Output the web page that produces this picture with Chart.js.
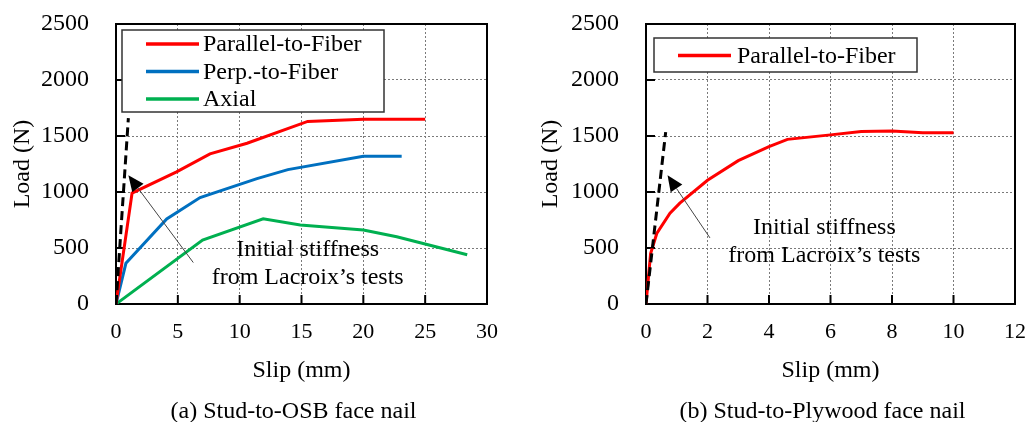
<!DOCTYPE html>
<html>
<head>
<meta charset="utf-8">
<script src="https://cdn.jsdelivr.net/npm/chart.js@4.4.0/dist/chart.umd.min.js"></script>
<style>
  html, body { margin: 0; padding: 0; background: #fff; }
  body { width: 1025px; height: 422px; position: relative; overflow: hidden; }
  canvas { position: absolute; top: 0; }
  #osb { left: 0; }
  #plywood { left: 528px; }
</style>
</head>
<body>
<canvas id="osb" width="528" height="422"></canvas>
<canvas id="plywood" width="497" height="422"></canvas>
<script>
// load-slip curves for face-nailed stud connections (slip in mm, load in N)
const osbSlipParallel = [0, 1.3, 4.9, 7.6, 10.6, 15.5, 20, 25];
const osbLoadParallel = [0, 990, 1180, 1340, 1435, 1630, 1650, 1650];
const osbSlipPerp = [0, 0.8, 4.1, 6.8, 11.4, 13.9, 20, 23.1];
const osbLoadPerp = [0, 363, 760, 950, 1120, 1200, 1320, 1320];
const osbSlipAxial = [0, 7.0, 11.9, 14.9, 20, 22.7, 28.4];
const osbLoadAxial = [0, 571, 760, 705, 661, 601, 440];
const osbSlipStiff = [0, 1.0];
const osbLoadStiff = [0, 1660];

const plySlipParallel = [0, 0.15, 0.35, 0.78, 1.1, 2.0, 3.0, 4.0, 4.6, 6.0, 7.0, 8.0, 9.0, 10.0];
const plyLoadParallel = [0, 450, 630, 810, 900, 1105, 1280, 1405, 1470, 1510, 1540, 1545, 1530, 1530];
const plySlipStiff = [0, 0.64];
const plyLoadStiff = [0, 1535];

const loadTicks = [0, 500, 1000, 1500, 2000, 2500];
const osbSlipTicks = [0, 5, 10, 15, 20, 25, 30];
const plySlipTicks = [0, 2, 4, 6, 8, 10, 12];

const seriesNames = ['Parallel-to-Fiber', 'Perp.-to-Fiber', 'Axial'];
const noteLines = ['Initial stiffness', 'from Lacroix\u2019s tests'];

const SERIF = "'Liberation Serif', 'Times New Roman', serif";
Chart.defaults.font.family = SERIF;
Chart.defaults.font.size = 24;
Chart.defaults.color = '#000';

const pts = (xs, ys) => xs.map((x, i) => ({ x, y: ys[i] }));

function curve(label, xs, ys, color) {
  return { label, data: pts(xs, ys), borderColor: color, borderWidth: 3,
           pointRadius: 0, tension: 0, fill: false };
}
function stiffLine(xs, ys) {
  return { data: pts(xs, ys), borderColor: '#000', borderWidth: 3, borderDash: [9, 5],
           pointRadius: 0, tension: 0, fill: false };
}

// plot border plus short inward tick marks on the left and bottom axes
const framePlugin = {
  id: 'frame',
  beforeDatasetsDraw(chart) {
    const { ctx, chartArea: a, scales } = chart;
    ctx.save();
    ctx.strokeStyle = '#000';
    ctx.lineWidth = 2;
    ctx.strokeRect(a.left, a.top, a.right - a.left, a.bottom - a.top);
    ctx.beginPath();
    scales.y.ticks.forEach(t => {
      const py = scales.y.getPixelForValue(t.value);
      ctx.moveTo(a.left, py); ctx.lineTo(a.left + 9, py);
    });
    scales.x.ticks.forEach(t => {
      const px = scales.x.getPixelForValue(t.value);
      ctx.moveTo(px, a.bottom); ctx.lineTo(px, a.bottom - 9);
    });
    ctx.stroke();
    ctx.restore();
  }
};

// boxed legend sitting inside the plot area
const boxLegend = {
  id: 'boxLegend',
  afterDatasetsDraw(chart, args, o) {
    const { ctx, chartArea: a } = chart;
    const items = chart.data.datasets.filter(d => d.label);
    const x0 = a.left + o.dx, y0 = a.top + o.dy;
    ctx.save();
    ctx.fillStyle = '#fff';
    ctx.fillRect(x0, y0, o.width, o.height);
    ctx.strokeStyle = '#333';
    ctx.lineWidth = 1.5;
    ctx.strokeRect(x0, y0, o.width, o.height);
    ctx.font = `24px ${SERIF}`;
    ctx.textBaseline = 'middle';
    ctx.textAlign = 'left';
    items.forEach((d, i) => {
      const cy = y0 + o.first + i * o.row;
      ctx.strokeStyle = d.borderColor;
      ctx.lineWidth = 3.5;
      ctx.beginPath();
      ctx.moveTo(x0 + 24, cy); ctx.lineTo(x0 + 77, cy);
      ctx.stroke();
      ctx.fillStyle = '#000';
      ctx.fillText(d.label, x0 + o.textX, cy + 1);
    });
    ctx.restore();
  }
};

// arrow pointing at the stiffness line, with its two-line note
const stiffNote = {
  id: 'stiffNote',
  afterDatasetsDraw(chart, args, o) {
    const { ctx, scales: { x, y } } = chart;
    const tx = x.getPixelForValue(o.tip[0]), ty = y.getPixelForValue(o.tip[1]);
    const bx = x.getPixelForValue(o.tail[0]), by = y.getPixelForValue(o.tail[1]);
    const ang = Math.atan2(ty - by, tx - bx);
    const c = Math.cos(ang), s = Math.sin(ang);
    const L = 16, W = 7;
    ctx.save();
    ctx.strokeStyle = '#444';
    ctx.lineWidth = 1;
    ctx.beginPath();
    ctx.moveTo(bx, by); ctx.lineTo(tx - L * c, ty - L * s);
    ctx.stroke();
    ctx.fillStyle = '#000';
    ctx.beginPath();
    ctx.moveTo(tx, ty);
    ctx.lineTo(tx - L * c + W * s, ty - L * s - W * c);
    ctx.lineTo(tx - L * c - W * s, ty - L * s + W * c);
    ctx.closePath();
    ctx.fill();
    ctx.font = `24px ${SERIF}`;
    ctx.textAlign = 'center';
    ctx.textBaseline = 'middle';
    const cx = x.getPixelForValue(o.at[0]), cy = y.getPixelForValue(o.at[1]);
    o.lines.forEach((line, i) => ctx.fillText(line, cx, cy + i * 28));
    ctx.restore();
  }
};

// sub-figure caption under the axis title
const caption = {
  id: 'caption',
  afterDraw(chart, args, o) {
    const { ctx, chartArea: a } = chart;
    ctx.save();
    ctx.font = `24px ${SERIF}`;
    ctx.textAlign = 'center';
    ctx.textBaseline = 'middle';
    ctx.fillStyle = '#000';
    ctx.fillText(o.text, (a.left + a.right) / 2 - 8, o.y);
    ctx.restore();
  }
};

function axes(xMax, xTicks, yWidth) {
  const grid = { color: '#7a7a7a', lineWidth: 1, drawTicks: false };
  const border = { display: false, dash: [2, 2] };
  const plain = v => String(v);
  return {
    x: {
      type: 'linear', min: 0, max: xMax,
      afterBuildTicks: s => { s.ticks = xTicks.map(v => ({ value: v })); },
      ticks: { padding: 15, autoSkip: false, maxRotation: 0, font: { size: 22 }, callback: plain },
      grid, border,
      title: { display: true, text: 'Slip (mm)', padding: { top: 0, bottom: 37 } },
      afterFit: s => { s.height = 118; s.paddingLeft = 0; s.paddingRight = 0; }
    },
    y: {
      min: 0, max: 2500,
      afterBuildTicks: s => { s.ticks = loadTicks.map(v => ({ value: v })); },
      ticks: { padding: 27, autoSkip: false, callback: plain },
      grid, border,
      title: { display: true, text: 'Load (N)', padding: { top: 8, bottom: 0 } },
      afterFit: s => { s.width = yWidth; s.paddingTop = 0; s.paddingBottom = 0; }
    }
  };
}

const common = {
  responsive: false,
  animation: false,
  events: [],
  plugins: { legend: { display: false }, tooltip: { enabled: false } }
};

new Chart(document.getElementById('osb'), {
  type: 'line',
  data: {
    datasets: [
      stiffLine(osbSlipStiff, osbLoadStiff),
      curve(seriesNames[0], osbSlipParallel, osbLoadParallel, '#ff0000'),
      curve(seriesNames[1], osbSlipPerp, osbLoadPerp, '#0070c0'),
      curve(seriesNames[2], osbSlipAxial, osbLoadAxial, '#00b050')
    ]
  },
  options: {
    ...common,
    layout: { padding: { left: 0, top: 24, right: 41, bottom: 0 } },
    scales: axes(30, osbSlipTicks, 116),
    plugins: {
      ...common.plugins,
      boxLegend: { dx: 6, dy: 6, width: 262, height: 82, first: 14, row: 27.5, textX: 81 },
      stiffNote: { tip: [1.0, 1150], tail: [6.25, 370], at: [15.5, 482], lines: noteLines },
      caption: { text: '(a) Stud-to-OSB face nail', y: 412 }
    }
  },
  plugins: [framePlugin, boxLegend, stiffNote, caption]
});

new Chart(document.getElementById('plywood'), {
  type: 'line',
  data: {
    datasets: [
      stiffLine(plySlipStiff, plyLoadStiff),
      curve(seriesNames[0], plySlipParallel, plyLoadParallel, '#ff0000')
    ]
  },
  options: {
    ...common,
    layout: { padding: { left: 0, top: 24, right: 10, bottom: 0 } },
    scales: axes(12, plySlipTicks, 118),
    plugins: {
      ...common.plugins,
      boxLegend: { dx: 8, dy: 14, width: 263, height: 34, first: 17.5, row: 27.5, textX: 83 },
      stiffNote: { tip: [0.70, 1150], tail: [2.08, 590], at: [5.8, 679], lines: noteLines },
      caption: { text: '(b) Stud-to-Plywood face nail', y: 412 }
    }
  },
  plugins: [framePlugin, boxLegend, stiffNote, caption]
});
</script>
</body>
</html>
